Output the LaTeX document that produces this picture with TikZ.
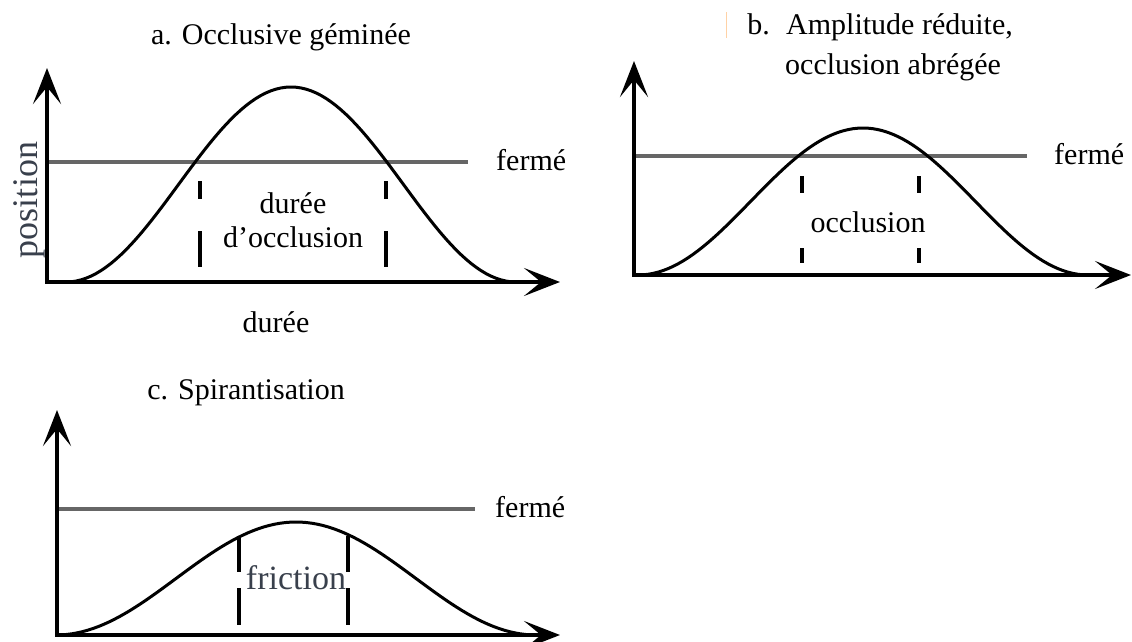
\documentclass[tikz,border=0pt]{standalone}
\usepackage{fontspec}
\setmainfont{Liberation Serif}
\usetikzlibrary{arrows.meta,positioning}
\definecolor{closedgray}{HTML}{666666}
\definecolor{labelslate}{HTML}{39404C}
\begin{document}
\begin{tikzpicture}[x=1pt,y=-1pt,
axis/.style={line width=4pt,line join=miter,{Stealth[length=36pt,width=28pt,inset=17pt]}-{Stealth[length=36pt,width=28pt,inset=17pt]}},
closure/.style={closedgray,line width=4pt},
gesture/.style={line width=3pt,line join=round},
phase/.style={line width=4pt},
lbl/.style={font=\fontsize{30}{34}\selectfont,inner sep=0pt,align=center}]
\useasboundingbox (0,0) rectangle (1132,641);
% a. geminate stop
\coordinate (oA) at (47,282);
\coordinate (yA) at (47,68);
\coordinate (xA) at (560,282);
\draw[closure] (oA|-0,162) -- (468,162) coordinate (gA);
\draw[gesture] (oA) -- (66,282) -- plot[domain=-225:225,samples=91] ({291+\x},{282-97.5*(1+cos(0.8*\x))}) -- (530,282);
\draw[axis] (yA) -- (oA) -- (xA);
\foreach \px in {200,386}{\draw[phase] (\px,181) -- (\px,199) (\px,231) -- (\px,267);}
\node[lbl] (titleA) at (281,37) {a. Occlusive géminée};
\node[lbl,anchor=west] (fermeA) at (496,160) {fermé};
\node[lbl] (durA) at (293,220) {durée\\d’occlusion};
\node[lbl] (timeA) at (276,322) {durée};
\node[lbl,font=\fontsize{36}{40}\selectfont,text=labelslate,rotate=90] (posA) at (29,200) {position};
% b. reduced amplitude
\coordinate (oB) at (634,275);
\coordinate (yB) at (634,61);
\coordinate (xB) at (1131,275);
\draw[closure] (oB|-0,156) -- (1027,156);
\draw[gesture] (oB) -- (640,275) -- plot[domain=-225:225,samples=91] ({863+\x},{275-73.5*(1+cos(0.8*\x))}) -- (1100,275);
\draw[axis] (yB) -- (oB) -- (xB);
\foreach \px in {802,919}{\draw[phase] (\px,176) -- (\px,193) (\px,248) -- (\px,263);}
\draw[orange!35,line width=1pt] (726,12) -- (726,38);
\node[lbl,anchor=west] (titleB) at (786,27) {Amplitude réduite,};
\node[lbl,anchor=west] (titleB2) at (785,67) {occlusion abrégée};
\node[lbl,anchor=base east] (titleBmark) at ([xshift=-16pt]titleB.base west) {b.};
\node[lbl,anchor=west] (fermeB) at (1054,154) {fermé};
\node[lbl] (occB) at (868,222) {occlusion};
% c. spirantization
\coordinate (oC) at (57,635);
\coordinate (yC) at (57,410);
\coordinate (xC) at (560,635);
\draw[closure] (oC|-0,509) -- (475,509);
\draw[gesture] plot[domain=-240:240,samples=91] ({296+\x},{635-56.5*(1+cos(0.75*\x))}) -- (540,635);
\draw[axis] (yC) -- (oC) -- (xC);
\foreach \px in {239,348}{\draw[phase] (\px,536) -- (\px,572) (\px,588) -- (\px,625);}
\node[lbl] (titleC) at (246,393) {c. Spirantisation};
\node[lbl,anchor=west] (fermeC) at (495,507) {fermé};
\node[lbl,font=\fontsize{34}{38}\selectfont,text=labelslate] (fricC) at (296,578) {friction};
\end{tikzpicture}
\end{document}
